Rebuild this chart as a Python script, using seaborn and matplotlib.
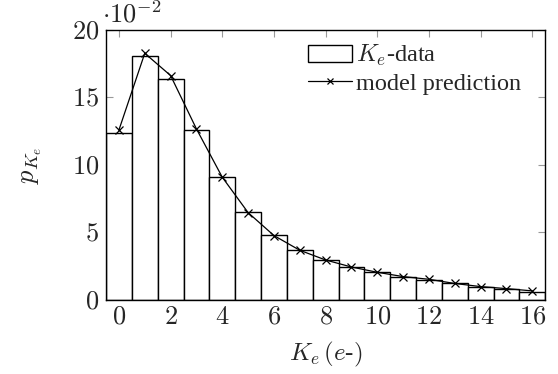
import matplotlib
matplotlib.use("Agg")
import matplotlib.pyplot as plt
import seaborn as sns
import numpy as np
import pandas as pd

k_values = list(range(17))
data_values = [12.35, 18.1, 16.37, 12.57, 9.09, 6.54, 4.84, 3.73, 2.99,
               2.47, 2.05, 1.73, 1.48, 1.28, 0.99, 0.81, 0.62]
model_values = [12.59, 18.27, 16.62, 12.67, 9.09, 6.47, 4.77, 3.68, 2.96,
                2.44, 2.05, 1.73, 1.53, 1.22, 0.99, 0.84, 0.67]
x_ticks = [0, 2, 4, 6, 8, 10, 12, 14, 16]
y_ticks = [0, 5, 10, 15, 20]

sns.set_theme(style="white")
plt.rcParams["mathtext.fontset"] = "cm"
plt.rcParams["font.family"] = ["Liberation Serif", "DejaVu Serif"]

df = pd.DataFrame({"k": k_values, "data": data_values, "model": model_values})

fig = plt.figure(figsize=(5.58, 3.74), dpi=100)
ax = fig.add_axes([0.19, 0.198, 0.787, 0.722])

sns.barplot(data=df, x="k", y="data", native_scale=True, width=1.0,
            facecolor="white", edgecolor="black", linewidth=1.0, ax=ax,
            label=r"$K_e$-data", zorder=2)
sns.lineplot(data=df, x="k", y="model", color="black", linewidth=0.9,
             marker="x", markersize=6, markeredgewidth=0.9,
             markeredgecolor="black", ax=ax,
             label="model prediction", zorder=3)

ax.set_xlim(-0.5, 16.5)
ax.set_ylim(0, 20)
ax.set_xticks(x_ticks)
ax.set_xticklabels([f"${t}$" for t in x_ticks], fontsize=19)
ax.set_yticks(y_ticks)
ax.set_yticklabels([f"${t}$" for t in y_ticks], fontsize=19)
ax.tick_params(direction="in", length=5, width=0.8, color="#999999",
               top=True, right=True, bottom=True, left=True, pad=5)
for s in ax.spines.values():
    s.set_color("black")
    s.set_linewidth(1.0)
    s.set_zorder(5)

ax.set_xlabel(r"$K_e\,(e$-$)$", fontsize=18, labelpad=8)
ax.set_ylabel(r"$p_{K_e}$", fontsize=19, labelpad=20)
ax.text(-0.01, 1.01, r"$\cdot 10^{-2}$", transform=ax.transAxes,
        fontsize=19, ha="left", va="bottom")

handles, labels = ax.get_legend_handles_labels()
order = [labels.index(r"$K_e$-data"), labels.index("model prediction")]
leg = ax.legend([handles[i] for i in order], [labels[i] for i in order],
                loc="upper right", frameon=False, fontsize=17.5,
                bbox_to_anchor=(0.985, 1.015), handlelength=1.8,
                handletextpad=0.2, labelspacing=0.2, borderaxespad=0.3,
                markerscale=0.7)

fig.savefig("out.png", dpi=100)
